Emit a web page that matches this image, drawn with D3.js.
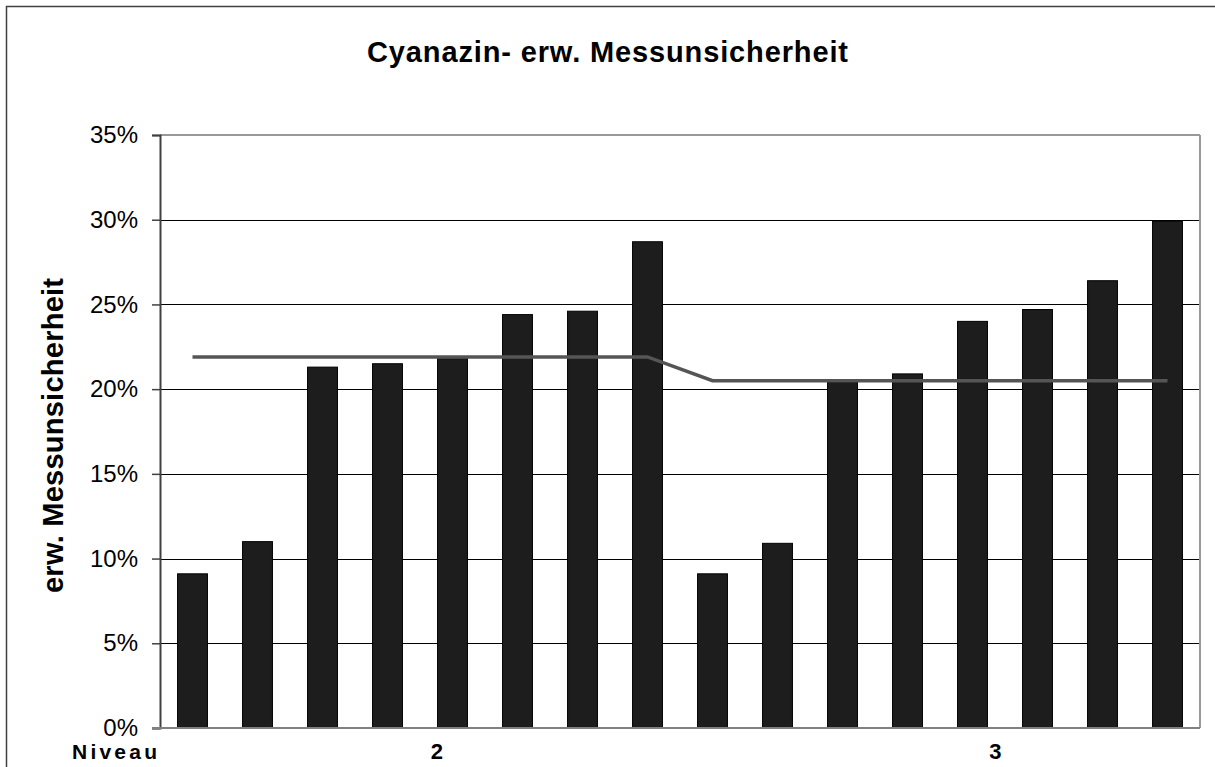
<html>
<head>
  <meta charset="utf-8">
  <title>Cyanazin - erw. Messunsicherheit</title>
  <script src="https://d3js.org/d3.v7.min.js"></script>
  <style>
    body { margin: 0; background: white; }
    svg text { font-family: Arial, "Liberation Sans", sans-serif; }
  </style>
</head>
<body>
  <script>
    // data
    const categories = ["1", "2", "3", "4", "5", "6", "7", "8", "9", "10", "11", "12", "13", "14", "15", "16"];
    const levels = ["2", "2", "2", "2", "2", "2", "2", "2", "3", "3", "3", "3", "3", "3", "3", "3"];
    const levelNames = ["2", "3"];
    const uncertainty = [0.091, 0.110, 0.213, 0.215, 0.218, 0.244, 0.246, 0.287,
                         0.091, 0.109, 0.204, 0.209, 0.240, 0.247, 0.264, 0.299];
    const meanLine = [0.219, 0.219, 0.219, 0.219, 0.219, 0.219, 0.219, 0.219,
                      0.205, 0.205, 0.205, 0.205, 0.205, 0.205, 0.205, 0.205];
    const yTicks = [0, 0.05, 0.10, 0.15, 0.20, 0.25, 0.30, 0.35];

    const width = 1215, height = 767;
    const margin = { top: 135, right: 15, bottom: 39, left: 160 };

    const svg = d3.select("body").append("svg")
      .attr("width", width)
      .attr("height", height);

    // outer chart frame (cropped on right/bottom)
    svg.append("rect")
      .attr("x", 6.5).attr("y", 6.5)
      .attr("width", width + 20).attr("height", height + 20)
      .attr("fill", "white")
      .attr("stroke", "#404040")
      .attr("stroke-width", 1.5);

    const x = d3.scaleBand()
      .domain(categories)
      .range([margin.left, width - margin.right])
      .paddingInner(0.54)
      .paddingOuter(0.27);

    const y = d3.scaleLinear()
      .domain([0, 0.35])
      .range([height - margin.bottom, margin.top]);

    // gridlines
    svg.append("g")
      .selectAll("line")
      .data(yTicks.slice(1, -1))
      .join("line")
      .attr("x1", margin.left).attr("x2", width - margin.right)
      .attr("y1", d => Math.round(y(d)) + 0.5).attr("y2", d => Math.round(y(d)) + 0.5)
      .attr("stroke", "#000").attr("stroke-width", 1);

    // top and right borders of the plot area
    svg.append("line")
      .attr("x1", margin.left).attr("x2", width - margin.right)
      .attr("y1", y(0.35)).attr("y2", y(0.35))
      .attr("stroke", "#999").attr("stroke-width", 2);
    svg.append("line")
      .attr("x1", width - margin.right).attr("x2", width - margin.right)
      .attr("y1", y(0.35)).attr("y2", y(0))
      .attr("stroke", "#999").attr("stroke-width", 2);

    // bars
    svg.append("g")
      .selectAll("rect")
      .data(uncertainty)
      .join("rect")
      .attr("x", (d, i) => x(categories[i]))
      .attr("y", d => y(d))
      .attr("width", x.bandwidth())
      .attr("height", d => y(0) - y(d))
      .attr("fill", "#1d1d1d")
      .attr("stroke", "#000")
      .attr("stroke-width", 1);

    // mean line
    const line = d3.line()
      .x((d, i) => x(categories[i]) + x.bandwidth() / 2)
      .y(d => y(d));
    svg.append("path")
      .datum(meanLine)
      .attr("d", line)
      .attr("fill", "none")
      .attr("stroke", "#555")
      .attr("stroke-width", 3.5);

    // y axis
    const yAxis = svg.append("g")
      .attr("transform", `translate(${margin.left},0)`)
      .call(d3.axisLeft(y).tickValues(yTicks).tickFormat(d3.format(".0%")).tickSize(8).tickPadding(14));
    yAxis.select(".domain").attr("stroke", "#404040").attr("stroke-width", 2);
    yAxis.selectAll(".tick line").attr("stroke", "#404040").attr("stroke-width", 1.5);
    yAxis.selectAll(".tick text")
      .attr("font-size", 24)
      .attr("font-family", "Arial, 'Liberation Sans', sans-serif")
      .attr("fill", "#000");

    // x axis baseline
    svg.append("line")
      .attr("x1", margin.left - 8).attr("x2", width - margin.right)
      .attr("y1", y(0)).attr("y2", y(0))
      .attr("stroke", "#808080").attr("stroke-width", 2);

    // level labels
    const levelPos = { "2": 4.26, "3": 12.85 };
    svg.append("g")
      .selectAll("text")
      .data(levelNames)
      .join("text")
      .attr("x", d => margin.left + x.step() * levelPos[d])
      .attr("y", 759)
      .attr("text-anchor", "middle")
      .attr("font-size", 22)
      .attr("font-weight", "bold")
      .text(d => d);

    svg.append("text")
      .attr("x", 72)
      .attr("y", 759)
      .attr("font-size", 21)
      .attr("font-weight", "bold")
      .attr("textLength", 85)
      .attr("lengthAdjust", "spacing")
      .text("Niveau");

    // title
    svg.append("text")
      .attr("x", 367)
      .attr("y", 62)
      .attr("font-size", 29)
      .attr("font-weight", "bold")
      .attr("textLength", 481)
      .attr("lengthAdjust", "spacing")
      .text("Cyanazin- erw. Messunsicherheit");

    // y axis title
    svg.append("text")
      .attr("transform", "translate(63,593) rotate(-90)")
      .attr("font-size", 29)
      .attr("font-weight", "bold")
      .attr("textLength", 315)
      .attr("lengthAdjust", "spacing")
      .text("erw. Messunsicherheit");
  </script>
</body>
</html>
